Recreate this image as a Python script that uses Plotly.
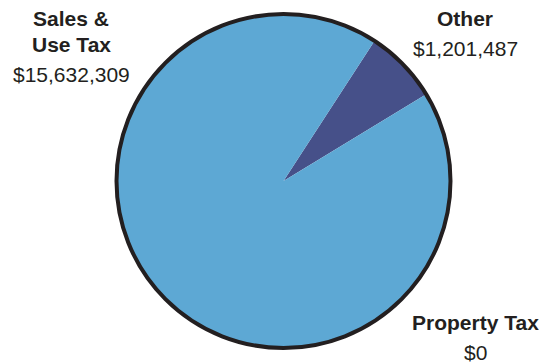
import plotly.graph_objects as go

# Revenue by source
categories = ["Other", "Sales & Use Tax", "Property Tax"]
values = [1201487, 15632309, 0]
name_lines = {
    "Other": ["Other"],
    "Sales & Use Tax": ["Sales &", "Use Tax"],
    "Property Tax": ["Property Tax"],
}
colors = ["#465089", "#5DA8D4", "#5DA8D4"]

W, H = 539, 364
CX, CY, R = 283.5, 181.0, 167.0  # pie centre and radius in pixels

dom_x = [(CX - R) / W, (CX + R) / W]
dom_y = [(H - CY - R) / H, (H - CY + R) / H]

fig = go.Figure()

# slices
fig.add_trace(go.Pie(
    labels=categories,
    values=values,
    marker=dict(colors=colors, line=dict(width=0)),
    sort=False,
    direction="clockwise",
    rotation=33,
    textinfo="none",
    hoverinfo="label+value",
    showlegend=False,
    domain=dict(x=dom_x, y=dom_y),
))

# outer rim drawn as a single transparent slice with a dark outline
fig.add_trace(go.Pie(
    values=[sum(values)],
    marker=dict(colors=["rgba(0,0,0,0)"], line=dict(color="#231F20", width=4)),
    textinfo="none",
    hoverinfo="skip",
    showlegend=False,
    domain=dict(x=dom_x, y=dom_y),
))

# label placement (pixel centres): name lines then value line
label_pos = {
    "Sales & Use Tax": dict(x=71, ys=[18, 44.5, 74.5]),
    "Other": dict(x=465, ys=[18, 48.5]),
    "Property Tax": dict(x=475, ys=[322, 352.5]),
}

text_color = "#231F20"
annotations = []
for cat, val in zip(categories, values):
    pos = label_pos[cat]
    lines = ["<b>%s</b>" % ln for ln in name_lines[cat]] + ["${:,}".format(val)]
    for txt, y in zip(lines, pos["ys"]):
        annotations.append(dict(
            text=txt, x=pos["x"] / W, y=1 - y / H,
            xref="paper", yref="paper", xanchor="center", yanchor="middle",
            showarrow=False,
            font=dict(family="Liberation Sans, Arial, sans-serif", size=21, color=text_color),
        ))

fig.update_layout(
    width=W, height=H,
    margin=dict(l=0, r=0, t=0, b=0),
    paper_bgcolor="white",
    plot_bgcolor="white",
    annotations=annotations,
)

fig.write_html("out.html")
